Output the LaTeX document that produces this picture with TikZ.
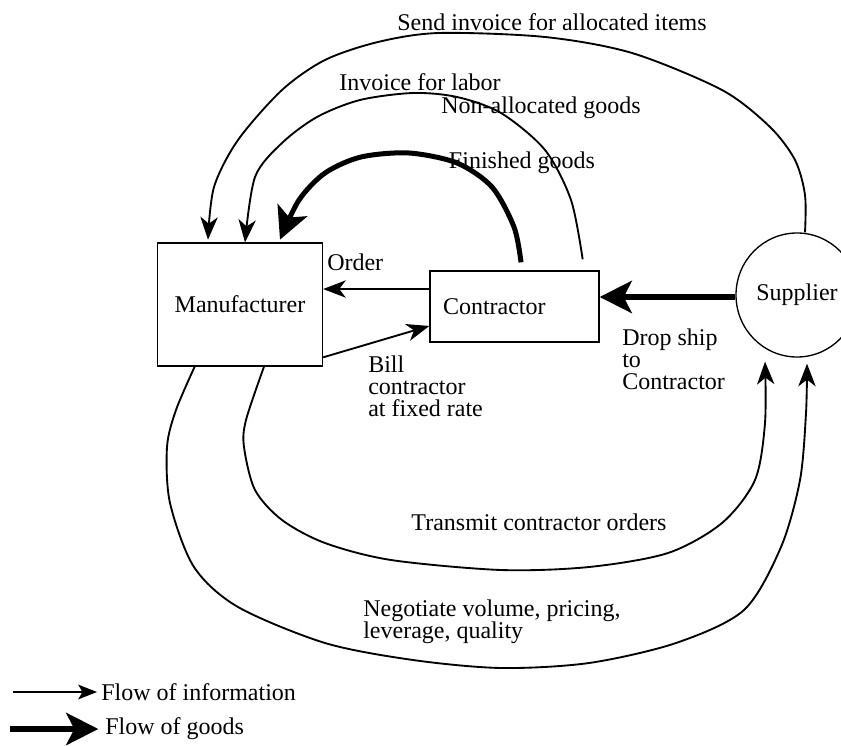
\documentclass[tikz,border=0pt]{standalone}
\usepackage{fontspec}
\setmainfont{Liberation Serif}
\usetikzlibrary{arrows.meta,shapes.geometric}

\begin{document}
\begin{tikzpicture}[x=0.75pt, y=-0.75pt,
    every node/.style={font=\fontsize{18}{16.5}\selectfont},
    box/.style={draw, line width=1pt, inner sep=0pt},
    lbl/.style={inner sep=0pt, align=left},
    info/.style={line width=1.4pt, -{Stealth[length=17pt, width=13pt, inset=5pt]}},
    goods/.style={line width=4.5pt, -{Stealth[length=24pt, width=24pt, inset=6pt]}}]
    \useasboundingbox (0,0) rectangle (841,745);

    % Parties
    \node[box, minimum width=123.75pt, minimum height=92.25pt] (manu) at (240,304.5) {Manufacturer};
    \node[box, minimum width=126.75pt, minimum height=53.25pt, text width=107.25pt, inner xsep=9.75pt, align=left] (contr) at (514.5,306.5) {Contractor};
    \node[draw, ellipse, line width=1pt, minimum width=91.5pt, minimum height=93pt, inner sep=0pt] (sup) at (797,295) {Supplier};

    % Straight flows
    \draw[info] ([yshift=13.1pt]contr.west) -- ([yshift=13.1pt]contr.west -| manu.east);
    \draw[info] ([yshift=7pt]manu.south east) -- ([yshift=-14.6pt]contr.west);
    \draw[goods, line width=5pt] ([yshift=-1.5pt]sup.west) -- ([yshift=-1.5pt]sup.west -| contr.east);

    % Curved flows over the top
    \draw[info] plot[smooth] coordinates {([xshift=6pt]sup.north) (805,195) (795,160) (770,127) (722,90) (632,53) (545,37) (439,33) (378,42) (325,60) (282,90) (238,140) (214,187) ([xshift=-24pt,yshift=2pt]manu.north)};
    \draw[info] plot[smooth] coordinates {([xshift=-12.75pt,yshift=8.25pt]contr.north east) (571,200) (545,150) (501,113) (457,97) (413,93) (360,100) (317,117) (282,143) (255,177) ([xshift=3.75pt]manu.north)};
    \draw[goods, line width=3.75pt] plot[smooth] coordinates {([xshift=4.9pt,yshift=6pt]contr.north) (514,227) (492,187) (457,163) (409,153) (361,157) (325,173) (299,200) ([xshift=30pt,yshift=2pt]manu.north)};

    % Curved flows underneath
    \draw[info] plot[smooth] coordinates {([xshift=18pt]manu.south) (246,420) (244,447) (255,490) (282,520) (325,543) (391,560) (501,570) (589,567) (668,553) (722,523) (755,480) (765,423) ([xshift=-24pt,yshift=-3pt]sup.south)};
    \draw[info] plot[smooth] coordinates {([xshift=-34pt]manu.south) (176,410) (167,447) (170,503) (194,567) (238,607) (325,643) (413,660) (501,668) (589,663) (676,643) (744,610) (781,547) (800,480) (806,413) ([xshift=7.5pt,yshift=-4.5pt]sup.south)};

    % Labels
    \node (sendlbl) at (552,22) {Send invoice for allocated items};
    \node (laborlbl) at (420,82) {Invoice for labor};
    \node (nonalloclbl) at (541,108) {Non-allocated goods};
    \node (finishlbl) at (522,163) {Finished goods};
    \node[anchor=west, inner sep=0pt] (orderlbl) at (327,262) {Order};
    \node[lbl, anchor=west] (billlbl) at (368,386) {Bill\\contractor\\at fixed rate};
    \node[lbl, anchor=west] (droplbl) at (622,359) {Drop ship\\to\\Contractor};
    \node (translbl) at (539,522) {Transmit contractor orders};
    \node[lbl, anchor=west] (negolbl) at (363,622) {Negotiate volume, pricing,\\leverage, quality};

    % Legend
    \coordinate (infostart) at (13,692);
    \node[anchor=west, inner sep=0pt] (infolbl) at (101,692) {Flow of information};
    \draw[line width=0.9pt, -{Stealth[length=14pt, width=11pt, inset=3pt]}, shorten >=3pt] (infostart) -- (infolbl.west);
    \coordinate (goodsstart) at (10,729);
    \node[anchor=west, inner sep=0pt] (goodslbl) at (105,729) {Flow of goods};
    \draw[goods, shorten >=5pt] (goodsstart) -- (goodslbl.west);
\end{tikzpicture}
\end{document}
